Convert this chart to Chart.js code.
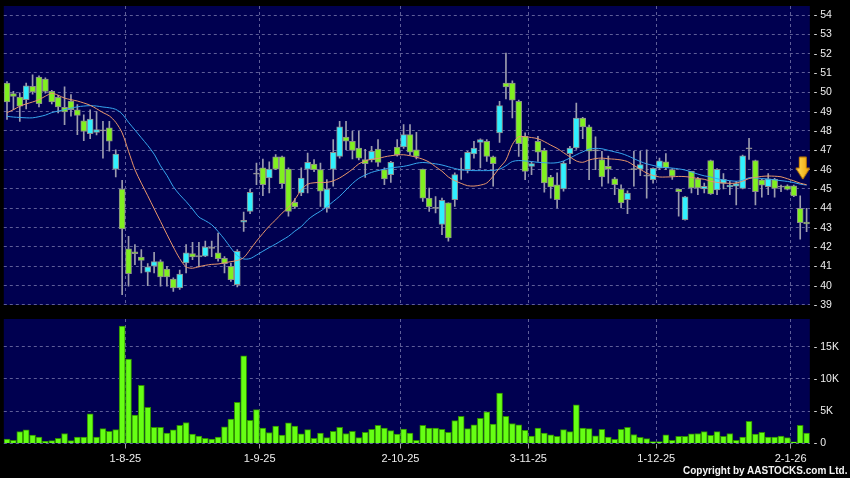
<!DOCTYPE html>
<html>
<head>
<meta charset="utf-8">
<script src="https://cdn.jsdelivr.net/npm/chart.js@4.4.1/dist/chart.umd.min.js"></script>
<style>
  body { margin: 0; background: #000; width: 850px; height: 478px; overflow: hidden; position: relative; }
  #chartPrice { position: absolute; left: 0; top: 0; }
  #chartVolume { position: absolute; left: 0; top: 310px; }
  #copy { position: absolute; left: 683px; top: 465px; color: #f4f4f4; font: bold 10px "Liberation Sans", Arial, sans-serif; white-space: nowrap; }
</style>
</head>
<body>
<canvas id="chartPrice" width="850" height="310"></canvas>
<canvas id="chartVolume" width="850" height="168"></canvas>
<div id="copy">Copyright by AASTOCKS.com Ltd.</div>
<script>
const opens = [50.48,49.93,49.76,49.62,50.31,50.79,50.69,50.05,49.74,49.22,
  49.55,49.1,48.53,47.86,47.93,48.03,48.16,46.03,45.0,41.9,
  41.75,41.48,40.69,41.0,41.24,40.86,40.34,39.88,41.17,41.66,
  41.52,41.52,41.95,41.69,41.41,41.0,40.05,43.28,43.84,45.79,
  46.09,45.57,46.66,46.66,46.03,44.31,44.79,46.03,46.29,46.0,
  44.02,46.03,46.69,47.69,47.47,47.12,46.52,46.52,47.07,46.0,
  45.74,47.17,47.17,47.81,47.03,46.03,44.53,44.02,43.16,44.28,
  44.45,46.0,46.0,46.81,47.41,47.47,46.66,47.9,50.48,50.48,
  49.53,47.72,46.17,47.47,47.0,45.62,45.22,45.0,46.83,47.12,
  48.67,48.21,47.0,46.52,46.17,45.52,45.0,44.45,46.03,46.03,
  45.69,45.48,46.07,46.41,46.0,45.0,43.41,45.91,45.52,45.0,
  46.47,44.95,45.29,45.1,45.15,45.03,47.1,46.47,45.47,45.12,
  45.5,45.12,45.16,45.16,44.0,43.29]
const highs = [50.55,50.05,49.97,50.48,50.9,50.85,50.75,50.1,49.85,50.28,
  49.88,49.36,48.84,49.1,49.0,48.5,48.5,47.03,45.45,42.55,
  42.12,41.86,41.14,41.72,41.34,41.0,40.4,40.8,42.12,42.24,
  42.24,42.3,42.3,42.72,41.5,41.17,41.86,43.81,45.0,46.34,
  46.55,46.4,46.78,46.7,46.09,44.5,46.09,46.86,46.52,46.34,
  45.48,47.55,48.5,48.5,47.98,47.98,47.05,47.2,47.55,46.1,
  46.43,47.55,48.33,48.33,47.93,46.03,45.05,44.6,44.53,44.28,
  45.83,46.6,46.95,47.47,47.6,47.55,46.7,49.53,52.03,50.6,
  49.6,47.9,46.4,47.72,47.1,45.7,45.83,46.43,47.2,49.45,
  48.7,48.3,47.7,46.95,46.7,45.6,45.22,44.9,46.95,46.95,
  47.03,46.1,46.6,46.83,46.05,45.0,44.62,45.91,45.6,45.3,
  46.5,46.05,45.8,45.4,45.4,46.75,47.62,46.5,45.5,45.8,
  45.55,45.2,45.22,45.2,44.64,44.0]
const lows = [48.6,49.1,48.5,49.14,49.9,49.24,49.95,49.4,48.93,48.33,
  48.76,47.81,47.5,47.6,47.8,46.6,46.95,45.62,39.53,39.97,
  41.09,40.66,40.0,40.66,39.97,39.97,39.7,39.8,40.66,41.34,
  40.97,41.5,41.5,41.26,40.66,40.22,39.93,42.81,43.72,45.22,
  44.66,44.8,46.0,45.05,43.59,44.0,44.66,44.79,45.9,44.1,
  43.8,45.14,46.6,47.03,46.55,46.5,45.6,46.4,46.17,45.22,
  45.34,46.7,47.1,46.78,46.55,44.36,43.84,43.76,42.64,42.3,
  44.1,45.5,45.83,46.6,46.09,46.43,45.14,47.41,49.66,48.67,
  46.69,45.48,45.74,46.43,44.83,44.53,44.02,44.88,46.31,47.05,
  47.6,45.48,46.0,45.14,45.3,44.7,44.02,43.72,45.14,45.69,
  44.53,45.3,46.0,46.0,45.5,43.59,43.38,44.79,44.7,44.8,
  44.72,44.7,45.0,44.7,44.17,45.0,46.53,44.17,44.57,44.7,
  44.57,44.86,44.95,44.6,42.4,42.79]
const closes = [49.5,49.79,49.28,50.33,50.02,49.41,50.05,49.5,49.24,48.98,
  49.1,48.81,47.98,48.62,48.07,48.03,47.47,46.81,42.93,40.62,
  41.65,41.31,40.97,41.24,40.45,40.45,39.88,40.6,41.69,41.48,
  41.52,42.0,41.95,41.4,41.14,40.31,41.78,43.38,44.83,45.79,
  45.22,46.03,46.03,45.28,43.84,44.07,45.57,46.38,46.0,44.88,
  45.0,46.9,48.21,47.47,47.0,46.6,46.31,46.95,46.38,45.52,
  46.38,46.78,47.81,46.9,46.69,44.53,44.07,44.02,44.41,42.47,
  45.74,46.0,46.9,47.12,47.55,46.69,46.31,49.31,50.28,49.59,
  47.34,45.91,46.31,46.9,45.31,45.1,44.45,46.34,47.12,48.67,
  48.21,46.95,47.0,45.62,46.03,45.22,44.28,44.79,46.03,46.26,
  45.69,46.07,46.45,46.09,45.66,44.86,44.59,45.05,45.05,45.14,
  44.74,46.02,45.5,45.2,45.28,46.71,47.1,44.86,45.2,45.53,
  45.03,45.12,44.98,44.64,43.26,43.19]
const ma10 = [48.95,49.1,49.28,49.4,49.5,49.62,49.8,49.95,49.85,49.7,
  49.62,49.55,49.45,49.33,49.15,48.95,48.78,48.45,47.9,46.95,
  46.0,45.3,44.65,43.98,43.32,42.65,42.0,41.4,40.97,40.9,
  40.98,41.05,41.1,41.12,41.18,41.24,41.3,41.45,41.86,42.3,
  42.7,43.08,43.4,43.75,44.05,44.45,44.95,45.25,45.32,45.34,
  45.34,45.42,45.57,45.78,46.02,46.3,46.45,46.54,46.58,46.66,
  46.72,46.76,46.77,46.72,46.64,46.54,46.39,46.15,45.92,45.62,
  45.43,45.29,45.17,45.15,45.2,45.31,45.66,46.1,46.5,47.3,
  47.7,47.7,47.66,47.6,47.45,47.27,47.1,46.88,46.66,46.45,
  46.38,46.5,46.57,46.6,46.56,46.54,46.5,46.42,46.22,46.02,
  45.82,45.7,45.62,45.62,45.63,45.65,45.64,45.6,45.54,45.5,
  45.4,45.34,45.31,45.29,45.31,45.4,45.54,45.6,45.65,45.67,
  45.66,45.63,45.53,45.42,45.3,45.22]
const ma20 = [48.76,48.72,48.7,48.68,48.68,48.74,48.82,48.95,49.03,49.1,
  49.18,49.25,49.29,49.31,49.29,49.24,49.2,49.12,48.88,48.45,
  48.05,47.65,47.25,46.8,46.2,45.7,45.12,44.7,44.35,43.96,
  43.55,43.36,43.15,42.8,42.4,41.95,41.55,41.38,41.4,41.58,
  41.78,41.97,42.15,42.35,42.55,42.82,43.05,43.4,43.65,43.85,
  44.08,44.35,44.62,44.95,45.28,45.55,45.72,45.86,45.95,46.03,
  46.09,46.13,46.17,46.24,46.33,46.37,46.34,46.3,46.24,46.15,
  46.06,45.99,45.96,45.95,45.95,45.95,45.96,46.02,46.2,46.42,
  46.47,46.45,46.42,46.38,46.36,46.34,46.36,46.45,46.6,46.77,
  46.92,47.06,47.1,47.08,47.0,46.92,46.84,46.72,46.57,46.42,
  46.3,46.22,46.14,46.11,46.08,46.04,45.98,45.88,45.77,45.68,
  45.62,45.53,45.47,45.43,45.4,45.45,45.58,45.57,45.54,45.51,
  45.47,45.43,45.39,45.33,45.25,45.2]
const volume = [700,500,1850,2100,1300,1000,350,450,800,1550,
  450,1000,1000,4600,1000,2300,1900,2150,18200,13100,
  4400,9000,5600,2500,2500,1600,2100,2800,3250,1450,
  1150,800,700,1000,2600,3800,6400,13600,3600,5250,
  2400,1700,2700,1300,3200,2700,1500,2150,800,1600,
  900,1900,2500,1550,1900,900,1750,2200,2800,2400,
  2000,1450,2250,1600,500,2800,2400,2400,2200,1750,
  3550,4200,2300,2900,3900,4900,3000,7800,4200,3100,
  2900,2050,1150,2400,1600,1350,1100,2150,1850,6000,
  2400,2300,1200,2200,1000,650,2200,2500,1400,950,
  750,300,300,1350,500,1100,1100,1500,1550,1850,
  1250,1850,1100,1550,500,1000,3450,1450,1750,1000,
  1000,1150,900,250,2800,1600]

const tickPos = [18.5, 39.5, 61.5, 81.5, 101.5, 122.5]
const tickLabels = ['1-8-25', '1-9-25', '2-10-25', '3-11-25', '1-12-25', '2-1-26']
const priceTicks = [39,40,41,42,43,44,45,46,47,48,49,50,51,52,53,54]
const volTicks = [0, 5000, 10000, 15000]
const volTickLabels = ['0', '5K', '10K', '15K']
const arrowAt = { x: 124.4, y: 46.08 }

const idx = closes.map((c, i) => i)
const gridColor = '#5e5e98'
// tiny lineHeight keeps chart.js from reserving extra room above/below the chart area
const labelFont = { family: '"Liberation Sans", Arial, sans-serif', size: 10.5, lineHeight: 0.2 }

const background = {
    id: 'background',
    beforeDraw: (chart) => {
        const { ctx, chartArea: a } = chart
        ctx.save()
        ctx.fillStyle = '#000050'
        ctx.fillRect(a.left, a.top, a.right - a.left, a.bottom - a.top)
        ctx.restore()
    }
}

const arrow = document.createElement('canvas')
arrow.width = 16
arrow.height = 24
const actx = arrow.getContext('2d')
actx.beginPath()
actx.moveTo(4.5, 1); actx.lineTo(11.5, 1); actx.lineTo(11.5, 12); actx.lineTo(15, 12)
actx.lineTo(8, 23); actx.lineTo(1, 12); actx.lineTo(4.5, 12); actx.closePath()
const grad = actx.createLinearGradient(0, 0, 16, 0)
grad.addColorStop(0, '#ffe060')
grad.addColorStop(1, '#f0a000')
actx.fillStyle = grad
actx.fill()
actx.strokeStyle = '#c88000'
actx.stroke()

const bodyColor = (i) => {
    if (closes[i] > opens[i]) return '#30f0ff'
    if (closes[i] < opens[i]) return '#80f020'
    return '#a0a0a0'
}

const bodies = idx.map(i => {
    const lo = Math.min(opens[i], closes[i])
    const hi = Math.max(opens[i], closes[i])
    return { x: i, y: hi - lo < 0.05 ? [lo - 0.03, hi + 0.03] : [lo, hi] }
})

const xScale = (extra) => Object.assign({
    type: 'linear', min: -0.5, max: 125.5, offset: false,
    afterBuildTicks: s => { s.ticks = tickPos.map(v => ({ value: v })) },
    border: { display: false, dash: [3, 3] }
}, extra)

new Chart(document.getElementById('chartPrice'), {
    type: 'bar',
    data: {
        datasets: [
            { type: 'line', data: [arrowAt], showLine: false, pointStyle: arrow, pointRadius: 8, order: 0 },
            { type: 'line', data: idx.map(i => ({ x: i, y: ma10[i] })), borderColor: '#e8966a', borderWidth: 1, pointRadius: 0, tension: 0.3, order: 1 },
            { type: 'line', data: idx.map(i => ({ x: i, y: ma20[i] })), borderColor: '#36a6ee', borderWidth: 1, pointRadius: 0, tension: 0.3, order: 1 },
            { data: bodies, backgroundColor: idx.map(bodyColor), borderColor: '#8c8c8c', borderWidth: 1, borderSkipped: false, barThickness: 6, grouped: false, order: 2 },
            { data: idx.map(i => ({ x: i, y: [lows[i], highs[i]] })), backgroundColor: '#9c9cae', barThickness: 1, grouped: false, order: 3 }
        ]
    },
    options: {
        responsive: false,
        animation: false,
        events: [],
        layout: { autoPadding: false, padding: { left: 3.8, top: 6, right: 0, bottom: 5 } },
        plugins: { legend: { display: false }, tooltip: { enabled: false } },
        scales: {
            x: xScale({
                afterFit: s => { s.height = 0 },
                ticks: { display: false },
                grid: { color: gridColor, drawTicks: false, offset: false }
            }),
            y: {
                position: 'right', min: 39, max: 54.466,
                afterBuildTicks: s => { s.ticks = priceTicks.map(v => ({ value: v })) },
                afterFit: s => { s.width = 40.2 },
                ticks: { callback: v => '- ' + v, color: '#eeeeee', font: labelFont, padding: 4 },
                grid: { color: gridColor, drawTicks: false },
                border: { display: false, dash: [3, 3] }
            }
        }
    },
    plugins: [background]
})

new Chart(document.getElementById('chartVolume'), {
    type: 'bar',
    data: {
        datasets: [{
            data: idx.map(i => ({ x: i, y: volume[i] })),
            backgroundColor: '#66ff14',
            borderColor: '#2e8c00',
            borderWidth: 1,
            barThickness: 6
        }]
    },
    options: {
        responsive: false,
        animation: false,
        events: [],
        layout: { autoPadding: false, padding: { left: 3.8, top: 9, right: 0, bottom: 0 } },
        plugins: { legend: { display: false }, tooltip: { enabled: false } },
        scales: {
            x: xScale({
                afterFit: s => { s.height = 34.5 },
                ticks: { callback: (v, i) => tickLabels[i], color: '#eeeeee', font: { family: labelFont.family, size: 11 }, padding: 4, maxRotation: 0, autoSkip: false },
                grid: { color: gridColor, offset: false, tickColor: '#a0a0a0', tickLength: 5, tickBorderDash: [] }
            }),
            y: {
                position: 'right', min: 0, max: 19300,
                afterBuildTicks: s => { s.ticks = volTicks.map(v => ({ value: v })) },
                afterFit: s => { s.width = 40.2 },
                ticks: { callback: (v, i) => '- ' + volTickLabels[i], color: '#eeeeee', font: labelFont, padding: 4 },
                grid: { color: gridColor, drawTicks: false },
                border: { display: false, dash: [3, 3] }
            }
        }
    },
    plugins: [background]
})
</script>
</body>
</html>
